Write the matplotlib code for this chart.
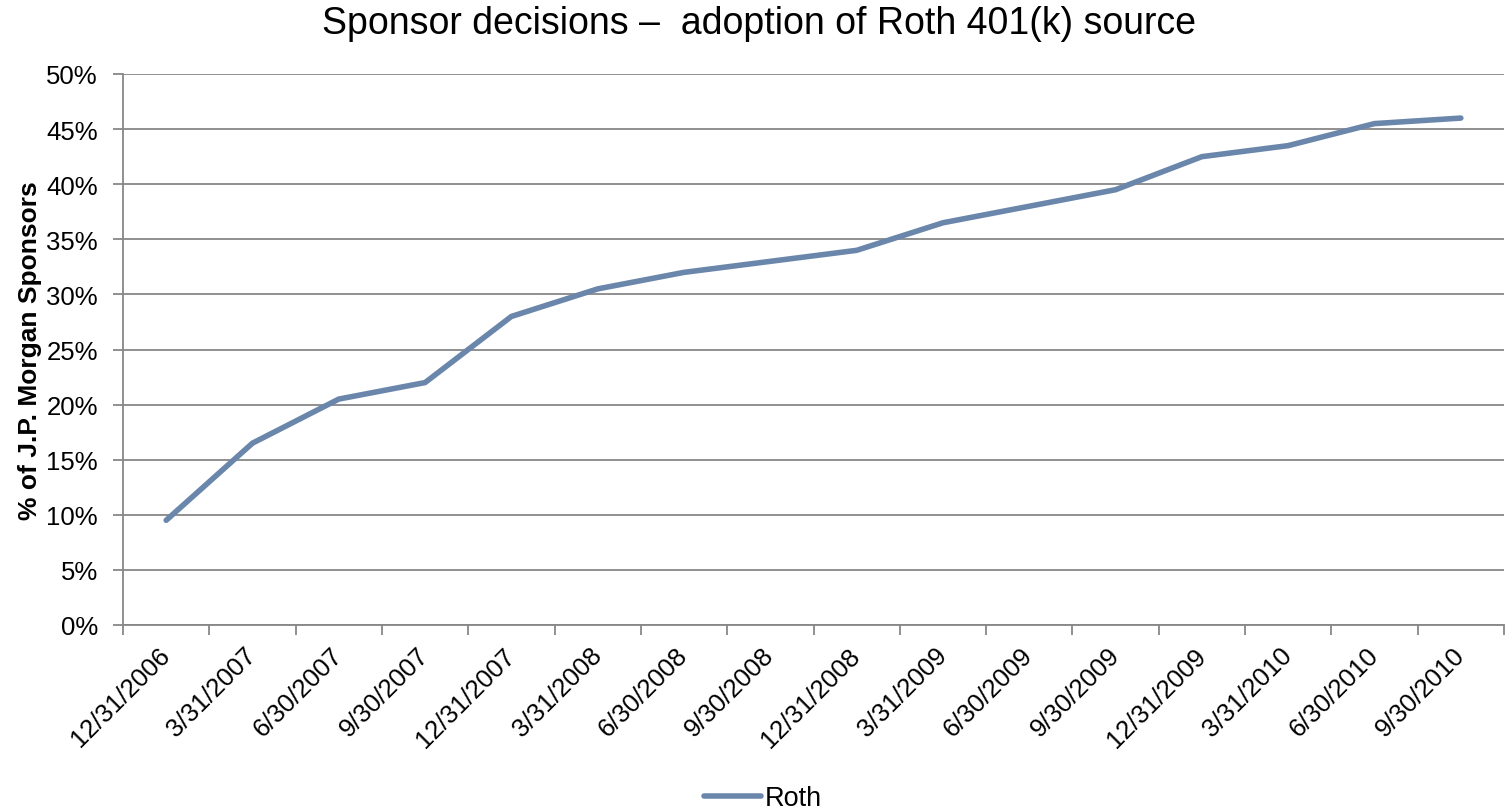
import numpy as np
import matplotlib
matplotlib.use("Agg")
import matplotlib.pyplot as plt
from matplotlib.ticker import FuncFormatter, FixedLocator

plt.rcParams["font.family"] = ["Liberation Sans", "DejaVu Sans"]

quarters = ["12/31/2006", "3/31/2007", "6/30/2007", "9/30/2007", "12/31/2007",
            "3/31/2008", "6/30/2008", "9/30/2008", "12/31/2008", "3/31/2009",
            "6/30/2009", "9/30/2009", "12/31/2009", "3/31/2010", "6/30/2010",
            "9/30/2010"]
roth_pct = [9.5, 16.5, 20.5, 22.0, 28.0, 30.5, 32.0, 33.0, 34.0, 36.5,
            38.0, 39.5, 42.5, 43.5, 45.5, 46.0]

LINE = "#6a87ab"
GRID = "#878787"

fig = plt.figure(figsize=(15.05, 8.12), dpi=100)
ax = fig.add_axes([123 / 1505, 1 - 626 / 812, (1504 - 123) / 1505, (626 - 75) / 812])

x = np.arange(len(quarters))
ax.plot(x, np.array(roth_pct) / 100, color=LINE, lw=4, solid_capstyle="round",
        solid_joinstyle="round", label="Roth", zorder=3)

ax.set_xlim(-0.5, len(quarters) - 0.5)
ax.set_ylim(0, 0.5)
ax.set_yticks(np.arange(0, 0.501, 0.05))
ax.yaxis.set_major_formatter(FuncFormatter(lambda v, _: f"{v * 100:.0f}%"))
ax.grid(axis="y", color=GRID, lw=1.3)
ax.set_axisbelow(True)

# category boundaries get the ticks, labels sit at the centers
ax.xaxis.set_major_locator(FixedLocator(np.arange(-0.5, len(quarters), 1.0)))
ax.xaxis.set_minor_locator(FixedLocator(x))
ax.set_xticklabels([])
ax.set_xticklabels(quarters, minor=True, rotation=45, ha="right", va="center",
                   rotation_mode="anchor", fontsize=18.5)
ax.tick_params(axis="x", which="major", length=7, width=1.3, color=GRID)
ax.tick_params(axis="x", which="minor", length=0, pad=19)
ax.tick_params(axis="y", length=7, width=1.3, color=GRID, labelsize=18.5, pad=11)

for side in ["top", "right"]:
    ax.spines[side].set_visible(False)
for side in ["left", "bottom"]:
    ax.spines[side].set_color(GRID)
    ax.spines[side].set_linewidth(1.3)

ax.set_ylabel("% of J.P. Morgan Sponsors", fontsize=19, fontweight="bold", labelpad=3)
fig.text(0.504, 0.970, "Sponsor decisions \u2013  adoption of Roth 401(k) source",
         ha="center", va="center", fontsize=27)

fig.legend(loc="center", bbox_to_anchor=(0.507, 0.016), frameon=False,
           fontsize=19.5, handlelength=2.1, handletextpad=0.15)

fig.savefig("out.png", dpi=100)
